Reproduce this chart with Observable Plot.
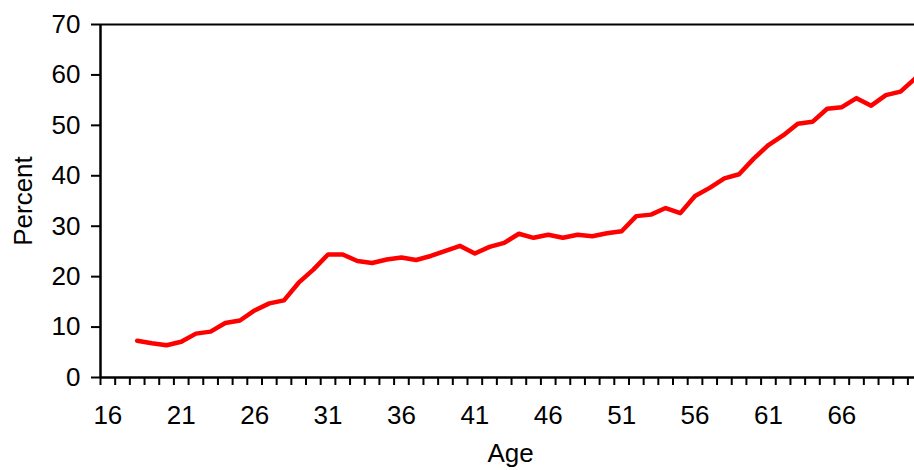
<!DOCTYPE html>
<html><head><meta charset="utf-8">
<script src="https://cdn.jsdelivr.net/npm/d3@7"></script>
<script src="https://cdn.jsdelivr.net/npm/@observablehq/plot@0.6"></script>
<style>
html,body{margin:0;padding:0;background:#fff;}
</style>
</head><body><div id="chart"></div>
<script>
const ages = [18,19,20,21,22,23,24,25,26,27,28,29,30,31,32,33,34,35,36,37,38,39,40,41,42,43,44,45,46,47,48,49,50,51,52,53,54,55,56,57,58,59,60,61,62,63,64,65,66,67,68,69,70,71];
const percent = [7.3,6.8,6.4,7.1,8.7,9.1,10.8,11.3,13.3,14.7,15.3,18.8,21.4,24.4,24.4,23.1,22.7,23.4,23.8,23.3,24.1,25.1,26.1,24.6,25.9,26.7,28.5,27.7,28.3,27.7,28.3,28.0,28.6,29.0,32.0,32.3,33.6,32.6,36.0,37.6,39.5,40.3,43.4,46.1,48.0,50.3,50.7,53.3,53.6,55.4,53.9,56.0,56.7,59.3];
const axisAges = d3.range(16, 71);            // category axis 16..70
const xTickLabels = [16,21,26,31,36,41,46,51,56,61,66];
const yTickValues = [0,10,20,30,40,50,60,70];

const data = ages.map((a, i) => ({age: a, pct: percent[i]}));
const edges = axisAges.map(a => a - 0.5).concat([axisAges[axisAges.length - 1] + 0.5]);

const chart = Plot.plot({
  width: 914, height: 470,
  marginLeft: 100, marginRight: 0, marginTop: 24, marginBottom: 93,
  style: {fontFamily: "'Liberation Sans', Arial, sans-serif", fontSize: "26px", background: "#fff", color: "#000", overflow: "visible"},
  x: {domain: [15.5, 70.95], label: null},
  y: {domain: [0, 70], label: null},
  marks: [
    Plot.axisY(yTickValues, {tickSize: 9, tickPadding: 11, strokeWidth: 2, fontSize: 26, label: null}),
    Plot.axisX(edges, {tickSize: 8, tickFormat: () => "", strokeWidth: 2, label: null}),
    Plot.axisX(xTickLabels, {tickSize: 0, tickPadding: 28, fontSize: 26, label: null}),
    Plot.ruleY([0], {strokeWidth: 2.5}),
    Plot.ruleY([70], {strokeWidth: 2}),
    Plot.ruleX([15.5], {strokeWidth: 2.5}),
    Plot.line(data, {x: "age", y: "pct", stroke: "#ff0000", strokeWidth: 4.5, strokeLinejoin: "round", clip: true}),
    Plot.text(["Age"], {frameAnchor: "bottom", lineAnchor: "top", dy: 66, dx: 3, fontSize: 26}),
    Plot.text(["Percent"], {frameAnchor: "left", textAnchor: "middle", rotate: -90, dx: -77, fontSize: 26})
  ]
});
document.getElementById("chart").appendChild(chart);
</script>
</body></html>
